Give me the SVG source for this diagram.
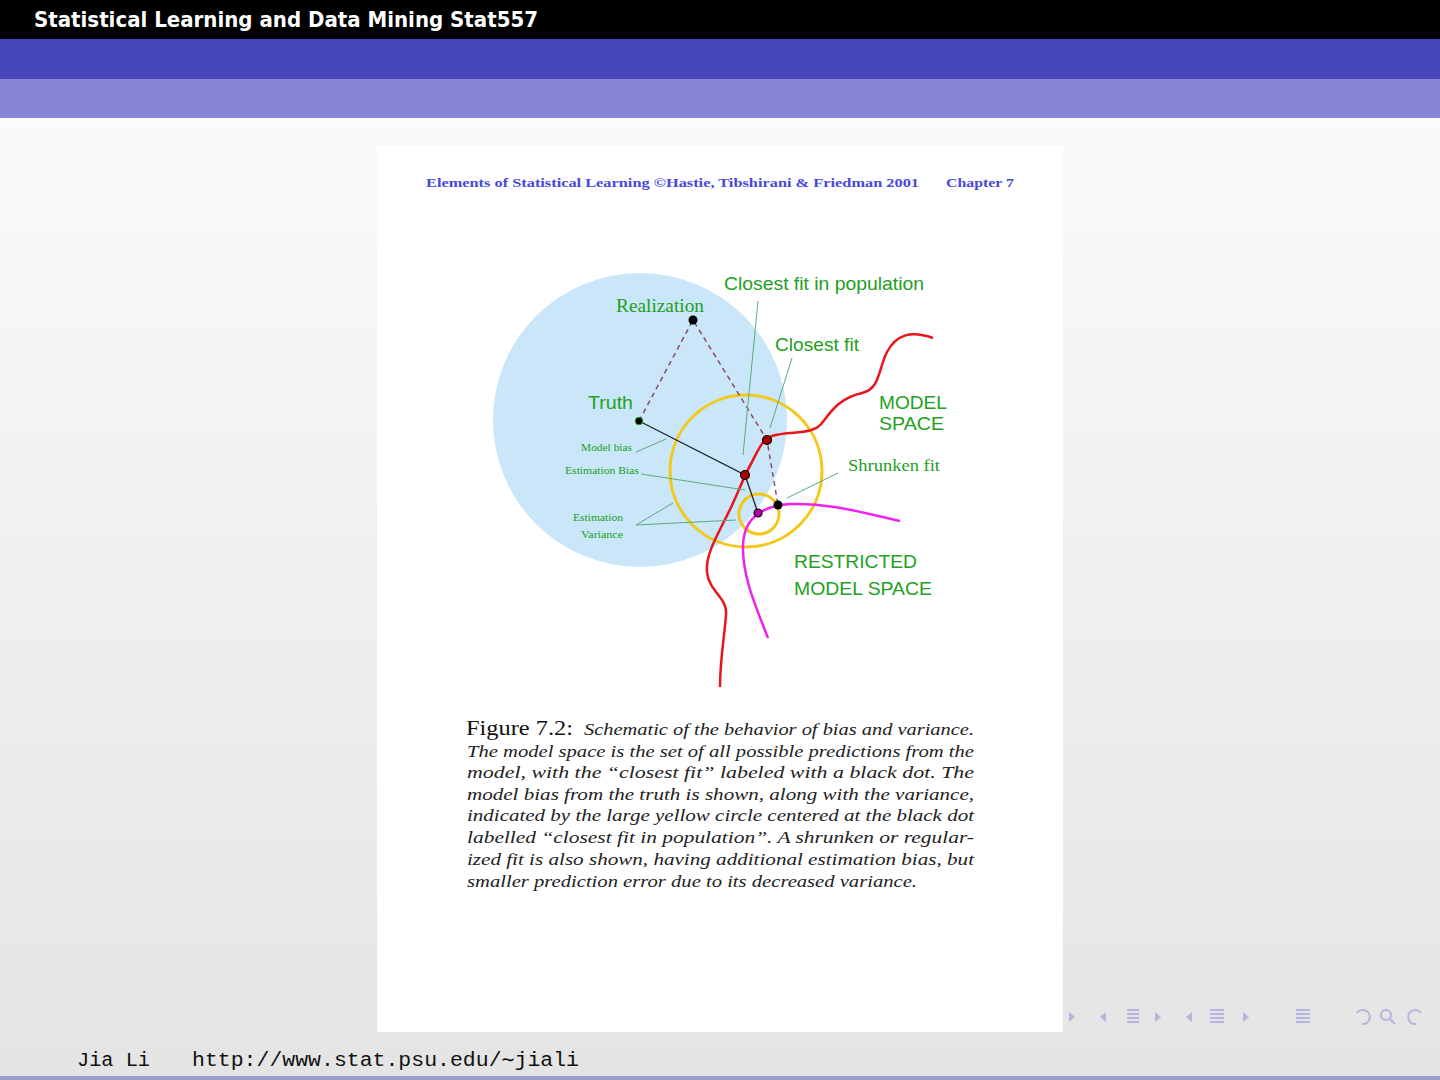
<svg xmlns="http://www.w3.org/2000/svg" width="1440" height="1080" viewBox="0 0 1440 1080">
<defs>
<linearGradient id="bg" x1="0" y1="0" x2="0" y2="1">
<stop offset="0" stop-color="#fdfdfd"/>
<stop offset="1" stop-color="#e4e4e4"/>
</linearGradient>
<style>
.lab{fill:#22a022;font-family:"Liberation Sans",Arial,sans-serif;}
.ser{fill:#22a022;font-family:"Liberation Serif","Times New Roman",serif;}
.lead{stroke:#5fa87a;stroke-width:1;fill:none;}
.cap{font-family:"Liberation Serif","Times New Roman",serif;font-style:italic;font-size:16px;fill:#222;}
.nav{fill:#b4b4dc;}
.navl{stroke:#b4b4dc;stroke-width:2;}
</style>
</defs>
<rect x="0" y="0" width="1440" height="1080" fill="url(#bg)"/>
<rect x="0" y="0" width="1440" height="39" fill="#000"/>
<rect x="0" y="39" width="1440" height="40" fill="#4747b9"/>
<rect x="0" y="79" width="1440" height="39" fill="#8686d4"/>
<text x="34" y="27" font-family="'DejaVu Sans Condensed','Liberation Sans',sans-serif" font-size="21" font-weight="bold" fill="#fff" textLength="504" lengthAdjust="spacingAndGlyphs">Statistical Learning and Data Mining  Stat557</text>

<rect x="377" y="146" width="686" height="886" fill="#fff"/>
<text x="426" y="187" font-family="'Liberation Serif',serif" font-size="11.5" font-weight="bold" fill="#4848e0" textLength="493" lengthAdjust="spacingAndGlyphs">Elements of Statistical Learning ©Hastie, Tibshirani &amp; Friedman 2001</text>
<text x="946" y="187" font-family="'Liberation Serif',serif" font-size="11.5" font-weight="bold" fill="#4848e0" textLength="68" lengthAdjust="spacingAndGlyphs">Chapter 7</text>

<g id="population">
<circle cx="640" cy="420" r="147" fill="#c9e7f9"/>
</g>
<g id="variance-circles">
<circle cx="746" cy="471" r="76" fill="none" stroke="#f2c81a" stroke-width="3"/>
<circle cx="759" cy="514" r="20" fill="none" stroke="#f2c81a" stroke-width="3"/>
</g>
<g id="model-space">
<path d="M720,687 C720,660 724,640 726,615 C728,598 709,592 707,572 C705,552 722,528 733,503 C740,488 745,474 752,462 C758,450 762,440 772,436 C790,430 812,436 822,423 C832,410 840,398 862,393 C880,389 878,370 887,352 C896,335 910,330 933,338" fill="none" stroke="#e8161c" stroke-width="2.5"/>
</g>
<g id="restricted-space">
<path d="M768,638 C755,605 742,575 743,545 C744,520 760,506 790,504 C830,503 860,512 900,521" fill="none" stroke="#ee22ee" stroke-width="2.5"/>
</g>
<g id="connectors">
<path d="M639,421 L693,320 L767,440 L778,505" fill="none" stroke="#8a4a6a" stroke-width="1.5" stroke-dasharray="5,4"/>
<path d="M639,421 L745,475 L758,513" fill="none" stroke="#222" stroke-width="1.3"/>
<path class="lead" d="M758,301 L743,455"/>
<path class="lead" d="M792,358 L770,428"/>
<path class="lead" d="M636,452 L666,439"/>
<path class="lead" d="M641,474 L745,490"/>
<path class="lead" d="M673,503 L636,525 L736,520"/>
<path class="lead" d="M838,473 L787,498"/>
</g>
<g id="points">
<circle cx="693" cy="320" r="4.5" fill="#000"/>
<circle cx="639" cy="421" r="3.8" fill="#000" stroke="#22a022" stroke-width="1"/>
<circle cx="767" cy="440" r="4.5" fill="#a00" stroke="#000" stroke-width="1.2"/>
<circle cx="745" cy="475" r="4.5" fill="#a00" stroke="#000" stroke-width="1.2"/>
<circle cx="778" cy="505" r="4.5" fill="#000"/>
<circle cx="758" cy="513" r="4" fill="#b000b0" stroke="#000" stroke-width="1.2"/>
</g>
<g id="labels">
<text class="lab" x="724" y="290" font-size="18.5" textLength="200" lengthAdjust="spacingAndGlyphs">Closest fit in population</text>
<text class="ser" x="616" y="312" font-size="18" textLength="88" lengthAdjust="spacingAndGlyphs">Realization</text>
<text class="lab" x="775" y="351" font-size="18.5" textLength="84" lengthAdjust="spacingAndGlyphs">Closest fit</text>
<text class="lab" x="588" y="409" font-size="19" textLength="45" lengthAdjust="spacingAndGlyphs">Truth</text>
<text class="lab" x="879" y="409" font-size="19" textLength="68" lengthAdjust="spacingAndGlyphs">MODEL</text>
<text class="lab" x="879" y="430" font-size="19" textLength="65" lengthAdjust="spacingAndGlyphs">SPACE</text>
<text class="ser" x="581" y="451" font-size="10" textLength="51" lengthAdjust="spacingAndGlyphs">Model bias</text>
<text class="ser" x="565" y="474" font-size="10" textLength="74" lengthAdjust="spacingAndGlyphs">Estimation Bias</text>
<text class="ser" x="848" y="471" font-size="17" textLength="92" lengthAdjust="spacingAndGlyphs">Shrunken fit</text>
<text class="ser" x="573" y="521" font-size="10" textLength="50" lengthAdjust="spacingAndGlyphs">Estimation</text>
<text class="ser" x="581" y="538" font-size="10" textLength="42" lengthAdjust="spacingAndGlyphs">Variance</text>
<text class="lab" x="794" y="568" font-size="19" textLength="123" lengthAdjust="spacingAndGlyphs">RESTRICTED</text>
<text class="lab" x="794" y="595" font-size="19" textLength="138" lengthAdjust="spacingAndGlyphs">MODEL SPACE</text>
</g>

<g id="caption">
<text x="466" y="735" font-family="'Liberation Serif',serif" font-size="20.5" fill="#111" textLength="107" lengthAdjust="spacingAndGlyphs">Figure 7.2:</text>
<text class="cap" x="584" y="735" textLength="390" lengthAdjust="spacingAndGlyphs">Schematic of the behavior of bias and variance.</text>
<text class="cap" x="467" y="757" textLength="507" lengthAdjust="spacingAndGlyphs">The model space is the set of all possible predictions from the</text>
<text class="cap" x="467" y="778" textLength="507" lengthAdjust="spacingAndGlyphs">model, with the “closest fit” labeled with a black dot.  The</text>
<text class="cap" x="467" y="800" textLength="507" lengthAdjust="spacingAndGlyphs">model bias from the truth is shown, along with the variance,</text>
<text class="cap" x="467" y="821" textLength="507" lengthAdjust="spacingAndGlyphs">indicated by the large yellow circle centered at the black dot</text>
<text class="cap" x="467" y="843" textLength="507" lengthAdjust="spacingAndGlyphs">labelled “closest fit in population”.  A shrunken or regular-</text>
<text class="cap" x="467" y="865" textLength="507" lengthAdjust="spacingAndGlyphs">ized fit is also shown, having additional estimation bias, but</text>
<text class="cap" x="467" y="887" textLength="450" lengthAdjust="spacingAndGlyphs">smaller prediction error due to its decreased variance.</text>
</g>

<g id="nav">
<path class="nav" d="M1069,1012 L1075,1017 L1069,1022 Z"/>
<path class="nav" d="M1106,1012 L1100,1017 L1106,1022 Z"/>
<path class="navl" d="M1127,1010 H1139 M1127,1014 H1139 M1127,1018 H1139 M1127,1022 H1139"/>
<path class="nav" d="M1155,1012 L1161,1017 L1155,1022 Z"/>
<path class="nav" d="M1192,1012 L1186,1017 L1192,1022 Z"/>
<path class="navl" d="M1210,1010 H1224 M1210,1014 H1224 M1210,1018 H1224 M1210,1022 H1224"/>
<path class="nav" d="M1243,1012 L1249,1017 L1243,1022 Z"/>
<path class="navl" d="M1296,1010 H1310 M1296,1014 H1310 M1296,1018 H1310 M1296,1022 H1310"/>
<path d="M1357,1013 A7,7 0 1 1 1362,1024" fill="none" stroke="#b4b4dc" stroke-width="2"/>
<circle cx="1386" cy="1015" r="5" fill="none" stroke="#b4b4dc" stroke-width="2"/>
<path class="navl" d="M1390,1019 L1395,1024"/>
<path d="M1421,1013 A7,7 0 1 0 1416,1024" fill="none" stroke="#b4b4dc" stroke-width="2"/>
</g>

<text x="77" y="1066" font-family="'Liberation Mono','Courier New',monospace" font-size="20" fill="#111" textLength="73" lengthAdjust="spacingAndGlyphs">Jia Li</text>
<text x="192" y="1066" font-family="'Liberation Mono','Courier New',monospace" font-size="20" fill="#111" textLength="387" lengthAdjust="spacingAndGlyphs">http://www.stat.psu.edu/∼jiali</text>
<rect x="0" y="1076" width="1440" height="4" fill="#9c9cd0"/>
</svg>
